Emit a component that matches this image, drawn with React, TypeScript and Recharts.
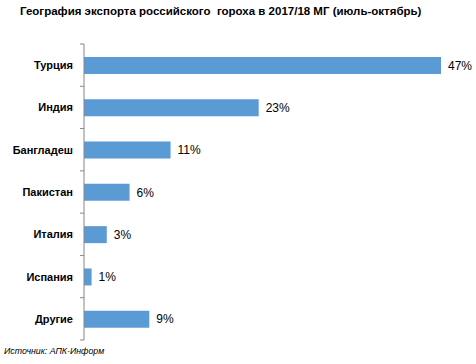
import { Bar, BarChart, LabelList, XAxis, YAxis } from 'recharts';

const countries = ['Турция', 'Индия', 'Бангладеш', 'Пакистан', 'Италия', 'Испания', 'Другие'];
const shares = [47, 23, 11.4, 6, 3, 1, 8.6];

const data = countries.map((name, i) => ({ name, value: shares[i] }));

const FONT = '"Liberation Sans", Arial, sans-serif';
const TOP = 44;
const BOTTOM = 24;
const BAND = (364 - TOP - BOTTOM) / countries.length;

/** Category label plus Excel-style tick marks between categories. */
function CountryTick(props: any) {
  const { x, y, payload, index } = props;
  const lx = x + 7;
  return (
    <g>
      <text
        x={x}
        y={y}
        dy={4}
        textAnchor="end"
        fontFamily={FONT}
        fontSize={11}
        fontWeight="bold"
        fill="#000"
      >
        {payload.value}
      </text>
      <line x1={lx} x2={lx + 4} y1={y - BAND / 2} y2={y - BAND / 2} stroke="#868686" />
      {index === countries.length - 1 && (
        <line x1={lx} x2={lx + 4} y1={y + BAND / 2} y2={y + BAND / 2} stroke="#868686" />
      )}
    </g>
  );
}

export default function App() {
  return (
    <div
      style={{
        position: 'absolute',
        left: 0,
        top: 0,
        width: 476,
        height: 364,
        background: '#fff',
        fontFamily: FONT,
      }}
    >
      <div
        style={{
          position: 'absolute',
          left: 20,
          top: 5,
          fontSize: 11.5,
          fontWeight: 'bold',
          whiteSpace: 'pre',
          color: '#000',
        }}
      >
        {'География экспорта российского  гороха в 2017/18 МГ (июль-октябрь)'}
      </div>
      <BarChart
        width={476}
        height={364}
        data={data}
        layout="vertical"
        margin={{ top: TOP, right: 35, bottom: BOTTOM, left: 0 }}
        barSize={17}
      >
        <XAxis type="number" domain={[0, 47]} hide />
        <YAxis
          type="category"
          dataKey="name"
          width={84}
          axisLine={{ stroke: '#868686' }}
          tickLine={false}
          tickSize={4}
          tickMargin={7}
          tick={<CountryTick />}
          interval={0}
        />
        <Bar dataKey="value" fill="#5B9BD5" isAnimationActive={false}>
          <LabelList
            dataKey="value"
            position="right"
            offset={7}
            formatter={(v: any) => `${Math.round(Number(v))}%`}
            style={{ fontFamily: FONT, fontSize: 12, fill: '#000' }}
          />
        </Bar>
      </BarChart>
      <div
        style={{
          position: 'absolute',
          left: 4,
          top: 346,
          fontSize: 8.8,
          fontStyle: 'italic',
          color: '#000',
        }}
      >
        Источник: АПК-Информ
      </div>
    </div>
  );
}
